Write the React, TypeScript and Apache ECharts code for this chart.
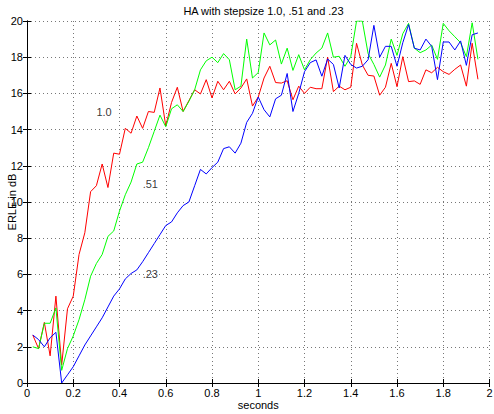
import React, { useEffect, useRef } from "react";
import * as echarts from "echarts";

const seconds = [
  0.025, 0.05, 0.075, 0.1, 0.125, 0.15, 0.175, 0.2, 0.225, 0.25,
  0.275, 0.3, 0.325, 0.35, 0.375, 0.4, 0.425, 0.45, 0.475, 0.5,
  0.525, 0.55, 0.575, 0.6, 0.625, 0.65, 0.675, 0.7, 0.725, 0.75,
  0.775, 0.8, 0.825, 0.85, 0.875, 0.9, 0.925, 0.95, 0.975, 1.0,
  1.025, 1.05, 1.075, 1.1, 1.125, 1.15, 1.175, 1.2, 1.225, 1.25,
  1.275, 1.3, 1.325, 1.35, 1.375, 1.4, 1.425, 1.45, 1.475, 1.5,
  1.525, 1.55, 1.575, 1.6, 1.625, 1.65, 1.675, 1.7, 1.725, 1.75,
  1.775, 1.8, 1.825, 1.85, 1.875, 1.9, 1.925, 1.95,
];

const step10 = [
  2.65, 1.9, 3.35, 1.5, 4.8, 1.0, 4.1, 4.8, 7.1, 8.3,
  10.57, 10.9, 12.1, 10.8, 12.7, 12.64, 14.07, 13.8, 14.75, 14.07,
  15.0, 14.95, 16.3, 14.2, 15.5, 16.34, 15.0, 15.6, 16.2, 15.97,
  16.76, 15.75, 16.67, 16.2, 16.67, 15.97, 16.3, 16.8, 15.3, 15.8,
  16.85, 17.5, 16.6, 16.57, 16.7, 15.65, 16.4, 16.0, 16.34, 16.26,
  16.26, 18.0, 16.1, 16.4, 16.2, 16.34, 18.77, 17.57, 17.0, 16.96,
  15.9, 16.34, 17.66, 16.37, 18.03, 16.65, 16.69, 16.5, 17.3, 17.14,
  17.44, 17.2, 17.05, 17.33, 17.57, 16.4, 18.77, 16.78,
];

const step51 = [
  2.0, 1.9, 3.3, 3.3, 4.15, 0.7, 1.9, 2.6, 3.5, 4.6,
  5.9, 6.6, 7.1, 8.1, 8.4, 9.5, 10.4, 11.1, 12.1, 12.2,
  13.0, 13.9, 14.8, 14.16, 15.15, 15.37, 15.0, 15.56, 16.2, 17.3,
  17.8, 18.0, 17.7, 18.2, 17.86, 16.2, 16.4, 19.0, 16.85, 17.15,
  19.34, 18.68, 18.95, 17.62, 18.5, 17.27, 18.14, 17.3, 17.86, 18.23,
  18.5, 19.34, 18.0, 18.05, 17.5, 18.03, 20.0, 20.0, 18.2, 17.6,
  16.9, 17.57, 19.0, 18.1, 19.3, 19.87, 18.5, 18.25, 18.4, 18.67,
  17.88, 19.87, 19.46, 19.13, 18.8, 18.03, 19.9, 17.88,
];

const step23 = [
  2.65, 2.4, 2.0, 2.5, 2.8, 0.0, 0.45, 0.9, 1.5, 2.1,
  2.6, 3.1, 3.6, 4.2, 4.8, 5.2, 5.75, 6.05, 6.25, 6.7,
  7.2, 7.7, 8.2, 8.7, 8.9, 9.4, 9.8, 10.0, 10.9, 11.8,
  11.55, 11.9, 12.2, 12.95, 13.05, 12.7, 13.25, 14.4, 14.9, 15.8,
  15.1, 14.7, 15.7, 15.9, 17.1, 15.0, 16.0, 17.2, 17.7, 17.85,
  16.95, 17.9, 17.6, 16.3, 18.1, 17.6, 17.4, 17.5, 17.86, 19.76,
  18.0, 18.6, 18.6, 17.5, 18.8, 19.8, 18.5, 18.4, 19.0, 18.6,
  16.76, 18.84, 18.84, 18.4, 18.9, 17.55, 19.24, 19.34,
];

const annotations: [number, number, string][] = [
  [0.3, 15, "1.0"],
  [0.5, 11, ".51"],
  [0.5, 6, ".23"],
];

const FONT = "Liberation Sans, Arial, Helvetica, sans-serif";

function pairs(ys: number[]) {
  return seconds.map((x, i) => [x, ys[i]]);
}

export default function App() {
  const ref = useRef<HTMLDivElement>(null);
  useEffect(() => {
    if (!ref.current) return;
    const chart = echarts.init(ref.current, undefined, { renderer: "svg" });
    const axisLine = { show: true, lineStyle: { color: "#000", width: 1 } };
    const tick = { show: true, inside: true, length: 4, lineStyle: { color: "#000" } };
    const grid = { show: true, lineStyle: { color: "#777", type: [1, 3] as any, width: 1 } };
    chart.setOption({
      animation: false,
      backgroundColor: "#fff",
      title: {
        text: "HA with stepsize 1.0, .51 and .23",
        left: 258.5,
        textAlign: "center",
        top: 0,
        textStyle: { fontSize: 11, fontWeight: "normal", color: "#000", fontFamily: FONT },
      },
      grid: {
        left: 27,
        right: 4.5,
        top: 21,
        bottom: 31,
        containLabel: false,
        outerBoundsMode: "none",
      },
      xAxis: [
        {
          type: "value",
          min: 0,
          max: 2,
          interval: 0.2,
          position: "bottom",
          axisLine,
          axisTick: tick,
          axisLabel: { color: "#000", fontSize: 11, fontFamily: FONT, margin: 4 },
          splitLine: grid,
          name: "seconds",
          nameLocation: "middle",
          nameGap: 16,
          nameMoveOverlap: false,
          nameTextStyle: { color: "#000", fontSize: 11, fontFamily: FONT },
        },
        {
          type: "value",
          min: 0,
          max: 2,
          interval: 0.2,
          position: "top",
          axisLine,
          axisTick: tick,
          axisLabel: { show: false },
          splitLine: { show: false },
        },
      ],
      yAxis: [
        {
          type: "value",
          min: 0,
          max: 20,
          interval: 2,
          position: "left",
          axisLine,
          axisTick: tick,
          axisLabel: { color: "#000", fontSize: 11, fontFamily: FONT, margin: 4 },
          splitLine: grid,
          name: "ERLE in dB",
          nameLocation: "middle",
          nameGap: 10,
          nameMoveOverlap: false,
          nameTextStyle: { color: "#000", fontSize: 11, fontFamily: FONT },
        },
        {
          type: "value",
          min: 0,
          max: 20,
          interval: 2,
          position: "right",
          axisLine,
          axisTick: tick,
          axisLabel: { show: false },
          splitLine: { show: false },
        },
      ],
      series: [
        {
          type: "line",
          data: pairs(step10),
          symbol: "none",
          lineStyle: { color: "#ff0000", width: 1 },
          clip: true,
        },
        {
          type: "line",
          data: pairs(step51),
          symbol: "none",
          lineStyle: { color: "#00ff00", width: 1 },
          clip: true,
        },
        {
          type: "line",
          data: pairs(step23),
          symbol: "none",
          lineStyle: { color: "#0000ff", width: 1 },
          clip: true,
        },
        {
          type: "scatter",
          data: annotations,
          symbolSize: 0,
          label: {
            show: true,
            position: "right",
            distance: 0,
            formatter: (p: any) => p.value[2],
            color: "#000",
            fontSize: 11,
            fontFamily: FONT,
          },
        },
      ],
    });
    return () => chart.dispose();
  }, []);
  return (
    <div
      ref={ref}
      style={{ position: "fixed", left: 0, top: 0, width: 494, height: 414 }}
    />
  );
}
